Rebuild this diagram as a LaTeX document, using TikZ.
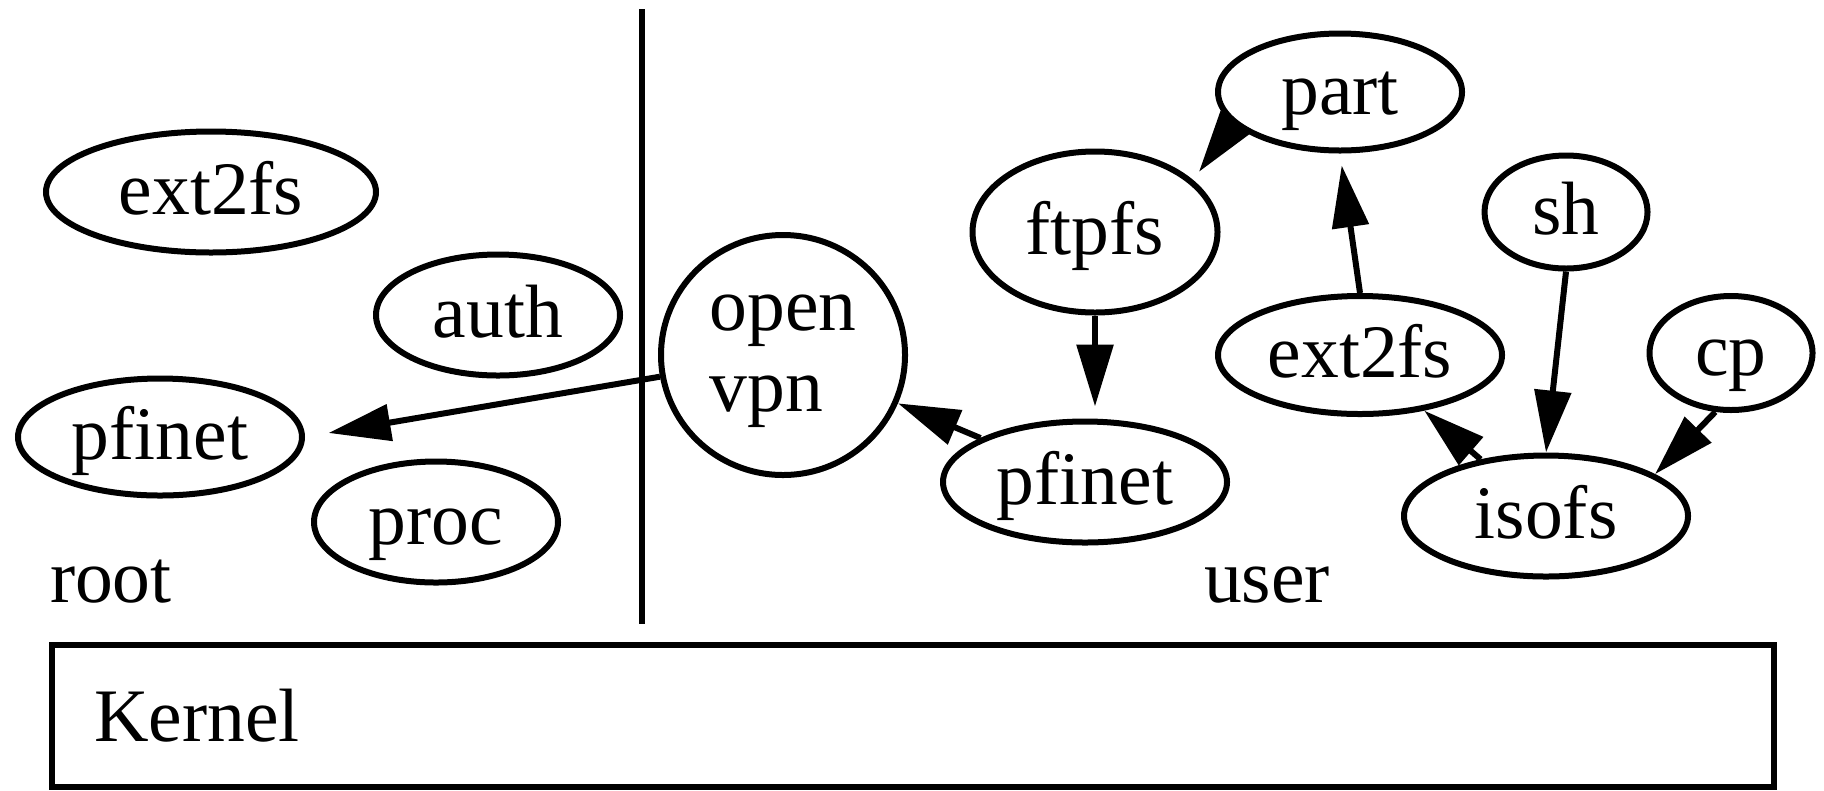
\documentclass[tikz,border=0pt]{standalone}
\usepackage{fontspec}
\setmainfont{Liberation Serif}
\newfontfamily\graphfont{Liberation Serif}
\usepackage{tikz}
\usetikzlibrary{arrows.meta,shapes.geometric}
\tikzset {
	fs/.style={ellipse, draw, inner sep=0pt, text height=6mm, text depth=1.6mm},
	wide/.style={minimum width=28.4mm, minimum height=12.1mm},
	narrow/.style={minimum width=24.4mm, minimum height=12.1mm},
	small/.style={minimum width=16.3mm, minimum height=11.3mm},
	layer/.style={rectangle, draw, anchor=west, align=left, inner xsep=4.2mm},
	dep/.style={-{Triangle[length=6.2mm, width=3.6mm]}}
}

\begin{document}
\begin{tikzpicture}[x=0.1mm, y=-0.1mm, line width=0.6mm, font=\graphfont\fontsize{21.5}{23}\selectfont]
\useasboundingbox (0,0) rectangle (1824,790);
% root side
\node [fs, wide, minimum width=33mm] (rootext) at (211,192) {ext2fs};
\node [fs, narrow] (auth) at (498,315) {auth};
\node [fs, wide, minimum height=11.7mm] (rootpfinet) at (160,437) {pfinet};
\node [fs, narrow] (proc) at (436,522) {proc};
\node [anchor=base west, inner sep=0pt] (root) at (47,602) {root};
\draw (642,9) -- (642,624);
% user side
\node [ellipse, draw, inner sep=0pt, minimum width=24.4mm, minimum height=24mm, align=left] (openvpn) at (783,355) {\strut open\\\strut vpn};
\node [fs, minimum width=24.5mm, minimum height=16.1mm] (ftpfs) at (1095,232) {ftpfs};
\node [fs, narrow, minimum height=11.7mm] (part) at (1340,92) {part};
\node [fs, small] (sh) at (1566,212) {sh};
\node [fs, wide, minimum height=11.8mm] (userext) at (1360,355) {ext2fs};
\node [fs, small, minimum height=11.4mm] (cp) at (1731,353) {cp};
\node [fs, wide] (userpfinet) at (1085,482) {pfinet};
\node [fs, wide] (isofs) at (1546,516) {isofs};
\node [anchor=base west, inner sep=0pt] (user) at (1201,602) {user};
% kernel
\node [layer, minimum height=14.2mm, text width=163.8mm] (kernel) at (49,716) {Kernel};

\draw [dep, shorten >=1mm] (part.197) -- (ftpfs.28);
\draw [dep, shorten >=1.2mm] (userext.north) -- (part.south);
\draw [dep, shorten >=1.2mm] (ftpfs.south) -- (userpfinet.north -| ftpfs.south);
\draw [dep] (userpfinet) -- (openvpn);
\draw [dep, shorten >=2.4mm] (openvpn.190) -- (rootpfinet.east);
\draw [dep] (isofs) -- (userext);
\draw [dep] (sh.south) -- (isofs.north);
\draw [dep] (cp.255) -- (isofs.21);
\end{tikzpicture}
\end{document}
